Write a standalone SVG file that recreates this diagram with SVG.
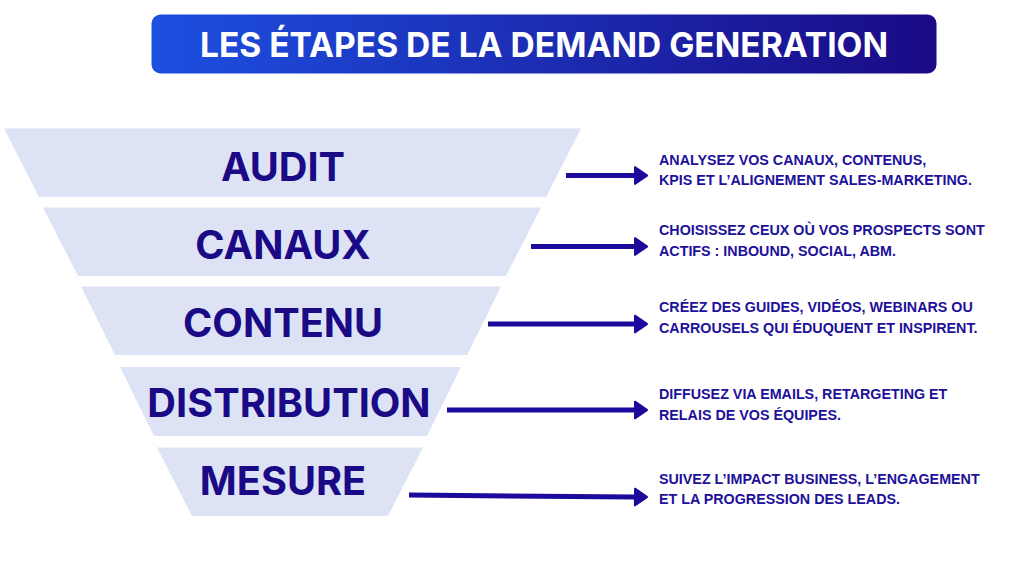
<svg xmlns="http://www.w3.org/2000/svg" width="1024" height="576" viewBox="0 0 1024 576">
<defs>
<linearGradient id="g" x1="0" y1="0" x2="1" y2="0"><stop offset="0" stop-color="#1d4fe0"/><stop offset="1" stop-color="#1a0a85"/></linearGradient>
<marker id="arrow" markerUnits="userSpaceOnUse" markerWidth="16" markerHeight="20" refX="1" refY="10" orient="auto"><path d="M1 1.500 Q1 0.300 2.500 0.800 L14.500 9 Q15.800 10 14.500 11 L2.500 19.200 Q1 19.700 1 18.500 Z" fill="#1b0a9c"/></marker>
</defs>
<style>
.trap{fill:#dde3f5}
.lab{font-family:Inter,"Liberation Sans",sans-serif;font-weight:700;font-size:39.7px;fill:#1a0a85;text-anchor:middle}
.desc{font-family:"Liberation Sans",Arial,sans-serif;font-weight:700;font-size:14.3px;fill:#20109a}
.con{stroke:#1b0a9c;stroke-width:5;fill:none;marker-end:url(#arrow)}
</style>
<rect width="1024" height="576" fill="#fff"/>
<g id="title"><rect x="151.500" y="14.500" width="785" height="59" rx="9" fill="url(#g)"/>
<text x="544" y="57" text-anchor="middle" font-family="Inter,'Liberation Sans',sans-serif" font-weight="700" font-size="34px" fill="#fff" textLength="688" lengthAdjust="spacingAndGlyphs">LES ÉTAPES DE LA DEMAND GENERATION</text></g>
<g id="audit"><polygon class="trap" points="4,128.500 581,128.500 546,197 39,197"/><text class="lab" x="283" y="181">AUDIT</text></g>
<g id="canaux"><polygon class="trap" points="43,207.500 541,207.500 506,276 78,276"/><text class="lab" x="283" y="259">CANAUX</text></g>
<g id="contenu"><polygon class="trap" points="81,286.500 501,286.500 467,355 115,355"/><text class="lab" x="283" y="337">CONTENU</text></g>
<g id="distribution"><polygon class="trap" points="120,367 461,367 427,436 154,436"/><text class="lab" x="289" y="417">DISTRIBUTION</text></g>
<g id="mesure"><polygon class="trap" points="157,447.500 423,447.500 388,516 192,516"/><text class="lab" x="283" y="495">MESURE</text></g>
<g id="connectors">
<line class="con" x1="566" y1="175.500" x2="634" y2="175.500"/>
<line class="con" x1="531" y1="246.500" x2="634" y2="246.500"/>
<line class="con" x1="488" y1="324" x2="634" y2="324"/>
<line class="con" x1="447" y1="410" x2="634" y2="410"/>
<line class="con" x1="409" y1="495" x2="634" y2="497"/>
</g>
<g id="desc-audit"><text class="desc" x="659" y="165">ANALYSEZ VOS CANAUX, CONTENUS,</text><text class="desc" x="659" y="185">KPIS ET L’ALIGNEMENT SALES-MARKETING.</text></g>
<g id="desc-canaux"><text class="desc" x="659" y="235">CHOISISSEZ CEUX OÙ VOS PROSPECTS SONT</text><text class="desc" x="659" y="256">ACTIFS : INBOUND, SOCIAL, ABM.</text></g>
<g id="desc-contenu"><text class="desc" x="659" y="312">CRÉEZ DES GUIDES, VIDÉOS, WEBINARS OU</text><text class="desc" x="659" y="333">CARROUSELS QUI ÉDUQUENT ET INSPIRENT.</text></g>
<g id="desc-distribution"><text class="desc" x="659" y="399">DIFFUSEZ VIA EMAILS, RETARGETING ET</text><text class="desc" x="659" y="420">RELAIS DE VOS ÉQUIPES.</text></g>
<g id="desc-mesure"><text class="desc" x="659" y="484">SUIVEZ L’IMPACT BUSINESS, L’ENGAGEMENT</text><text class="desc" x="659" y="504">ET LA PROGRESSION DES LEADS.</text></g>
</svg>
